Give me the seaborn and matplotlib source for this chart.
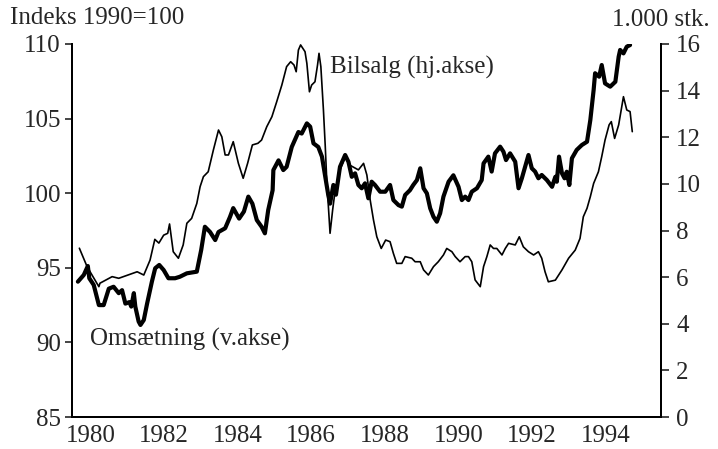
import seaborn as sns
import pandas as pd
import numpy as np
import matplotlib.pyplot as plt
from matplotlib.ticker import FixedLocator, MultipleLocator

# Omsaetning (left axis, index 1990=100)
oms_year = [1980.16, 1980.32, 1980.43, 1980.47, 1980.59, 1980.73, 1980.86, 1981.00, 1981.13, 1981.27,
            1981.36, 1981.45, 1981.56, 1981.61, 1981.68, 1981.72, 1981.81, 1981.86, 1981.95, 1982.04,
            1982.17, 1982.26, 1982.37, 1982.49, 1982.62, 1982.80, 1982.93, 1983.12, 1983.39, 1983.51,
            1983.61, 1983.75, 1983.89, 1983.98, 1984.16, 1984.29, 1984.38, 1984.54, 1984.67, 1984.79,
            1984.90, 1985.02, 1985.15, 1985.24, 1985.33, 1985.45, 1985.47, 1985.61, 1985.74, 1985.83,
            1985.97, 1986.15, 1986.24, 1986.38, 1986.47, 1986.56, 1986.69, 1986.79, 1986.88, 1986.96,
            1987.01, 1987.10, 1987.17, 1987.28, 1987.42, 1987.51, 1987.60, 1987.69, 1987.78, 1987.87,
            1987.96, 1988.05, 1988.14, 1988.23, 1988.37, 1988.51, 1988.64, 1988.73, 1988.87, 1988.96,
            1989.05, 1989.18, 1989.27, 1989.37, 1989.46, 1989.55, 1989.64, 1989.73, 1989.82, 1989.91,
            1990.00, 1990.09, 1990.23, 1990.36, 1990.50, 1990.59, 1990.68, 1990.77, 1990.86, 1991.00,
            1991.13, 1991.18, 1991.31, 1991.40, 1991.49, 1991.63, 1991.72, 1991.79, 1991.90, 1992.04,
            1992.13, 1992.22, 1992.31, 1992.40, 1992.49, 1992.58, 1992.67, 1992.76, 1992.90, 1993.04,
            1993.13, 1993.17, 1993.23, 1993.31, 1993.38, 1993.44, 1993.51, 1993.58, 1993.71, 1993.85,
            1993.99, 1994.08, 1994.17, 1994.21, 1994.32, 1994.39, 1994.48, 1994.62, 1994.76, 1994.85,
            1994.89, 1994.98, 1995.07, 1995.16]
oms_value = [94.07, 94.52, 95.12, 94.30, 93.85, 92.50, 92.50, 93.60, 93.73, 93.30,
             93.50, 92.60, 92.70, 92.40, 93.30, 92.40, 91.40, 91.17, 91.50, 92.60,
             94.07, 94.97, 95.19, 94.85, 94.30, 94.30, 94.40, 94.63, 94.74, 96.20,
             97.75, 97.40, 96.86, 97.40, 97.65, 98.40, 99.00, 98.30, 98.77, 99.77,
             99.30, 98.20, 97.75, 97.31, 98.87, 100.20, 101.55, 102.20, 101.55, 101.77,
             103.10, 104.10, 104.00, 104.68, 104.46, 103.34, 103.10, 102.45, 101.10, 99.90,
             99.30, 100.55, 99.90, 101.77, 102.56, 102.10, 101.10, 101.33, 100.55, 100.33,
             100.66, 99.66, 100.77, 100.55, 100.10, 100.10, 100.55, 99.54, 99.20, 99.10,
             99.88, 100.20, 100.55, 100.88, 101.67, 100.33, 99.99, 98.99, 98.42, 98.09,
             98.65, 99.77, 100.77, 101.20, 100.43, 99.54, 99.77, 99.54, 100.10, 100.33,
             100.88, 102.00, 102.45, 101.45, 102.67, 103.12, 102.78, 102.22, 102.67, 102.11,
             100.33, 101.00, 101.78, 102.56, 101.67, 101.45, 101.00, 101.22, 100.88, 100.43,
             101.10, 100.77, 102.45, 101.33, 101.00, 101.44, 100.55, 102.34, 102.90, 103.23,
             103.45, 104.90, 106.92, 108.04, 107.81, 108.59, 107.36, 107.14, 107.47, 109.15,
             109.60, 109.37, 109.82, 109.93]

# Bilsalg (right axis, 1.000 stk.)
bil_year = [1980.20, 1980.41, 1980.73, 1980.76, 1981.09, 1981.27, 1981.45, 1981.77, 1981.95, 1982.12,
            1982.25, 1982.36, 1982.49, 1982.60, 1982.65, 1982.75, 1982.89, 1983.02, 1983.12, 1983.25,
            1983.39, 1983.48, 1983.57, 1983.70, 1983.84, 1983.98, 1984.07, 1984.16, 1984.25, 1984.38,
            1984.52, 1984.65, 1984.77, 1984.90, 1985.05, 1985.15, 1985.29, 1985.43, 1985.56, 1985.70,
            1985.83, 1985.94, 1986.03, 1986.09, 1986.15, 1986.21, 1986.33, 1986.38, 1986.45, 1986.51,
            1986.60, 1986.67, 1986.71, 1986.76, 1986.83, 1986.88, 1986.92, 1987.01, 1987.08, 1987.15,
            1987.28, 1987.42, 1987.55, 1987.78, 1987.92, 1988.01, 1988.10, 1988.19, 1988.28, 1988.40,
            1988.52, 1988.64, 1988.73, 1988.82, 1988.96, 1989.05, 1989.23, 1989.32, 1989.46, 1989.55,
            1989.68, 1989.82, 1989.95, 1990.09, 1990.18, 1990.32, 1990.41, 1990.54, 1990.68, 1990.77,
            1990.86, 1990.95, 1991.09, 1991.18, 1991.27, 1991.36, 1991.45, 1991.54, 1991.68, 1991.77,
            1991.86, 1992.04, 1992.15, 1992.26, 1992.40, 1992.54, 1992.67, 1992.76, 1992.85, 1992.94,
            1993.13, 1993.31, 1993.49, 1993.67, 1993.80, 1993.89, 1993.99, 1994.08, 1994.17, 1994.30,
            1994.39, 1994.48, 1994.59, 1994.65, 1994.74, 1994.85, 1994.98, 1995.07, 1995.16, 1995.22]
bil_value = [7.24, 6.45, 5.59, 5.74, 6.02, 5.95, 6.05, 6.23, 6.09, 6.73,
             7.62, 7.46, 7.80, 7.88, 8.28, 7.09, 6.81, 7.38, 8.31, 8.52,
             9.16, 9.88, 10.31, 10.52, 11.45, 12.31, 12.02, 11.24, 11.24, 11.81,
             10.88, 10.24, 10.88, 11.67, 11.74, 11.88, 12.45, 12.88, 13.52, 14.24,
             15.03, 15.24, 15.10, 14.81, 15.74, 15.96, 15.67, 15.17, 13.95, 14.24,
             14.38, 15.10, 15.60, 15.03, 13.17, 11.60, 10.17, 7.88, 8.88, 9.74,
             10.60, 11.17, 10.80, 10.60, 10.88, 10.38, 9.31, 8.45, 7.73, 7.23,
             7.59, 7.52, 7.02, 6.59, 6.59, 6.88, 6.81, 6.66, 6.66, 6.31,
             6.09, 6.45, 6.66, 6.95, 7.23, 7.09, 6.88, 6.66, 6.88, 6.88,
             6.66, 5.88, 5.59, 6.45, 6.88, 7.38, 7.23, 7.23, 6.95, 7.23,
             7.45, 7.38, 7.73, 7.30, 7.09, 6.95, 7.09, 6.81, 6.23, 5.80,
             5.87, 6.31, 6.81, 7.16, 7.66, 8.59, 8.95, 9.45, 10.02, 10.52,
             11.17, 11.88, 12.53, 12.67, 11.95, 12.53, 13.74, 13.17, 13.10, 12.24]

year_labels = ['1980', '1982', '1984', '1986', '1988', '1990', '1992', '1994']
left_ticks = [85, 90, 95, 100, 105, 110]
right_ticks = [0, 2, 4, 6, 8, 10, 12, 14, 16]

oms_df = pd.DataFrame({'Year': oms_year, 'Value': oms_value})
bil_df = pd.DataFrame({'Year': bil_year, 'Value': bil_value})

sns.set_style("white")
plt.rcParams['font.family'] = ['Liberation Serif', 'DejaVu Serif']
plt.rcParams['axes.edgecolor'] = 'black'

ticks_fontsize = 18
labels_fontsize = 18

fig = plt.figure(figsize=(7.18, 4.49), dpi=100)
ax = fig.add_subplot(111)
ax2 = ax.twinx()

sns.lineplot(data=oms_df, x='Year', y='Value', color='black', linewidth=3.0, ax=ax)
sns.lineplot(data=bil_df, x='Year', y='Value', color='black', linewidth=1.2, ax=ax2)

ax.set_xlim(1980, 1996)
ax.set_ylim(85, 110)
ax2.set_ylim(0, 16)
ax.set_xlabel('')
ax.set_ylabel('')
ax2.set_ylabel('')

# year labels sit in the middle of each year
ax.xaxis.set_major_locator(FixedLocator([int(y) + 0.5 for y in year_labels]))
ax.set_xticklabels(year_labels, fontsize=ticks_fontsize)
ax.xaxis.set_minor_locator(MultipleLocator(1))
ax.tick_params(axis='x', which='major', length=0, pad=6)
ax.tick_params(axis='x', which='minor', length=3, direction='in', width=1)

ax.set_yticks(left_ticks)
ax.set_yticklabels([str(t) for t in left_ticks], fontsize=ticks_fontsize)
ax.tick_params(axis='y', length=5, width=1.2, direction='out', left=True, pad=3)
ax2.set_yticks(right_ticks)
ax2.set_yticklabels([str(t) for t in right_ticks], fontsize=ticks_fontsize)
ax2.tick_params(axis='y', length=6, width=1.2, direction='out', right=True, pad=5)

for a in [ax, ax2]:
    a.spines['top'].set_visible(False)
    for s in ['left', 'right', 'bottom']:
        a.spines[s].set_linewidth(1.4)
        a.spines[s].set_color('black')
    a.grid(False)

ax.text(1987.0, 108.45, 'Bilsalg (hj.akse)', fontsize=labels_fontsize, ha='left', va='center')
ax.text(1980.49, 90.2, 'Omsætning (v.akse)', fontsize=labels_fontsize, ha='left', va='center')

fig.text(10 / 718, 1 - 18 / 449, 'Indeks 1990=100', fontsize=labels_fontsize, ha='left', va='center')
fig.text(710 / 718, 1 - 20 / 449, '1.000 stk.', fontsize=labels_fontsize, ha='right', va='center')

plt.subplots_adjust(left=72 / 718, right=661 / 718, bottom=1 - 417 / 449, top=1 - 44 / 449)
plt.savefig('out.png', dpi=100)
